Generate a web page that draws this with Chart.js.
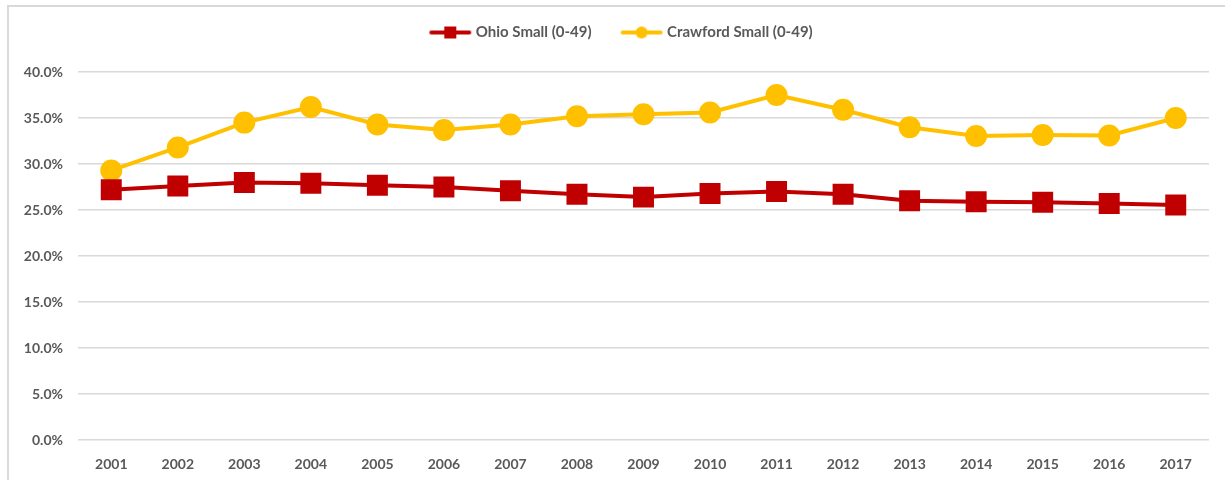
<!DOCTYPE html>
<html>
<head>
<meta charset="utf-8">
<script src="https://cdn.jsdelivr.net/npm/chart.js@4"></script>
<style>
  html, body { margin: 0; padding: 0; background: #fff; overflow: hidden; }
  #page { position: relative; width: 1225px; height: 480px; overflow: hidden; }
  #frame {
    position: absolute; left: 7px; top: 5px;
    width: 1260px; height: 520px;
    border: 2px solid #d9d9d9;
  }
  #wrap { position: absolute; left: 9px; top: 7px; width: 1216px; height: 473px; }
</style>
</head>
<body>
<div id="page">
  <div id="frame"></div>
  <div id="wrap"><canvas id="chart"></canvas></div>
</div>
<script>
const years = ['2001', '2002', '2003', '2004', '2005', '2006', '2007', '2008', '2009',
               '2010', '2011', '2012', '2013', '2014', '2015', '2016', '2017'];
const ohioSmall = [27.2, 27.6, 28.0, 27.9, 27.7, 27.5, 27.1, 26.7, 26.4,
                   26.8, 27.0, 26.7, 26.0, 25.9, 25.85, 25.7, 25.55];
const crawfordSmall = [29.3, 31.8, 34.5, 36.2, 34.3, 33.7, 34.3, 35.2, 35.4,
                       35.6, 37.5, 35.9, 34.0, 33.05, 33.15, 33.1, 35.0];

const red = '#c00000';
const gold = '#ffc000';

// legend swatch: short line with the marker in the middle, like Excel
function swatch(color, shape) {
    const c = document.createElement('canvas');
    c.width = 60; c.height = 16;
    const g = c.getContext('2d');
    g.strokeStyle = color; g.lineWidth = 4; g.lineCap = 'round';
    g.beginPath(); g.moveTo(18, 8); g.lineTo(56, 8); g.stroke();
    g.fillStyle = color;
    if (shape === 'rect') {
        g.fillRect(31, 2, 12, 12);
    } else {
        g.beginPath(); g.arc(37, 8, 6, 0, Math.PI * 2); g.fill();
    }
    return c;
}

const tickFont = {family: 'Lato, "Open Sans", sans-serif', size: 14, weight: 'bold'};

// push the plot down below the legend
const legendGap = {
    id: 'legendGap',
    beforeInit(chart) {
        const fit = chart.legend.fit;
        chart.legend.fit = function () {
            fit.call(this);
            this.height += 22;
        };
    }
};

new Chart(document.getElementById('chart').getContext('2d'), {
    type: 'line',
    data: {
        labels: years,
        datasets: [
            {
                label: 'Ohio Small (0-49)',
                data: ohioSmall,
                borderColor: red,
                backgroundColor: red,
                borderWidth: 4,
                pointStyle: 'rect',
                pointRadius: 12,
                pointHoverRadius: 12,
                legendSwatch: swatch(red, 'rect')
            },
            {
                label: 'Crawford Small (0-49)',
                data: crawfordSmall,
                borderColor: gold,
                backgroundColor: gold,
                borderWidth: 4,
                pointStyle: 'circle',
                pointRadius: 9,
                pointHoverRadius: 9,
                legendSwatch: swatch(gold, 'circle')
            }
        ]
    },
    plugins: [legendGap],
    options: {
        responsive: true,
        maintainAspectRatio: false,
        animation: false,
        layout: {padding: {left: 9, right: 12, top: 0, bottom: 4}},
        plugins: {
            tooltip: {enabled: false},
            legend: {
                position: 'top',
                labels: {
                    usePointStyle: true,
                    pointStyleWidth: 50,
                    color: '#595959',
                    font: {family: 'Lato, "Open Sans", sans-serif', size: 15, weight: 'bold'},
                    padding: 18,
                    generateLabels: chart => chart.data.datasets.map((ds, i) => ({
                        text: ds.label,
                        pointStyle: ds.legendSwatch,
                        fontColor: '#595959',
                        strokeStyle: ds.borderColor,
                        fillStyle: ds.backgroundColor,
                        lineWidth: 0,
                        datasetIndex: i
                    }))
                }
            }
        },
        scales: {
            x: {
                offset: true,
                grid: {display: false},
                border: {display: false},
                ticks: {color: '#595959', font: tickFont, padding: 8},
                afterFit: scale => { scale.height = 36; }
            },
            y: {
                min: 0,
                max: 40,
                grid: {color: '#d9d9d9', lineWidth: 1.5, drawTicks: false},
                border: {display: false},
                ticks: {
                    stepSize: 5,
                    color: '#595959',
                    font: tickFont,
                    padding: 15,
                    callback: v => v.toFixed(1) + '%'
                },
                afterFit: scale => { scale.width = 60; }
            }
        }
    }
});
</script>
</body>
</html>
